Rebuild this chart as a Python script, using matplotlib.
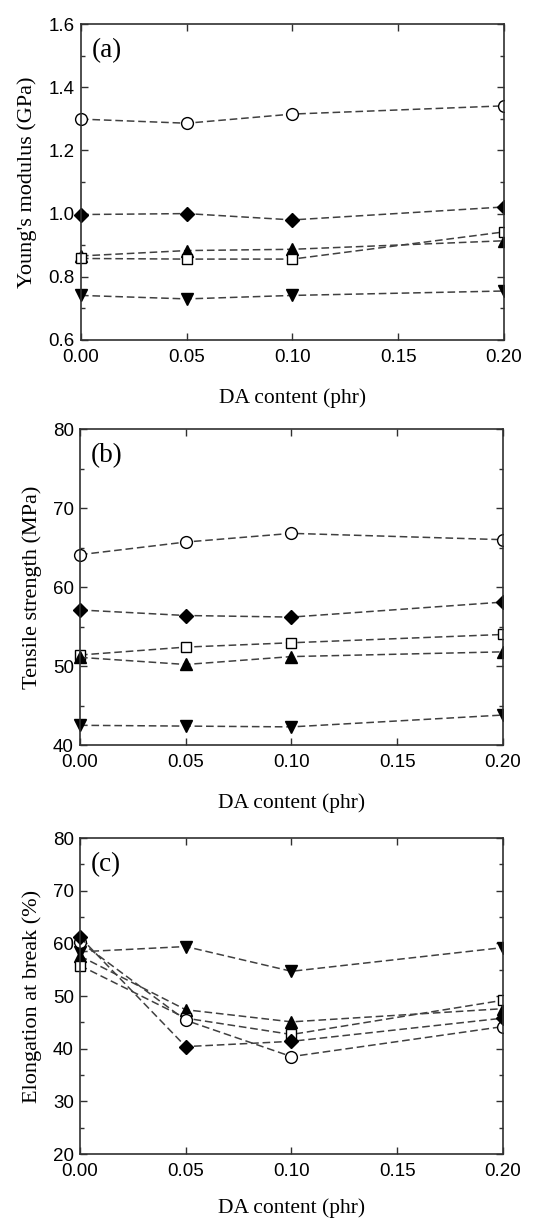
import numpy as np
import matplotlib
matplotlib.use("Agg")
import matplotlib.pyplot as plt
from matplotlib.patches import Rectangle
from matplotlib.ticker import MultipleLocator, FormatStrFormatter

# DA content (phr)
da = [0.00, 0.05, 0.10, 0.20]

# (a) Young's modulus (GPa)
ym_circle = [1.299, 1.286, 1.315, 1.341]
ym_diamond = [0.997, 1.000, 0.980, 1.021]
ym_tri_up = [0.866, 0.883, 0.887, 0.914]
ym_square = [0.858, 0.856, 0.856, 0.942]
ym_tri_down = [0.741, 0.730, 0.741, 0.755]

# (b) Tensile strength (MPa)
ts_circle = [64.1, 65.7, 66.8, 66.0]
ts_diamond = [57.1, 56.4, 56.2, 58.1]
ts_square = [51.4, 52.4, 52.95, 54.0]
ts_tri_up = [51.1, 50.2, 51.2, 51.8]
ts_tri_down = [42.5, 42.4, 42.3, 43.8]

# (c) Elongation at break (%)
eb_circle = [60.3, 45.4, 38.5, 44.2]
eb_diamond = [61.2, 40.4, 41.4, 45.8]
eb_square = [55.8, 45.8, 42.7, 49.2]
eb_tri_up = [57.6, 47.4, 45.1, 47.6]
eb_tri_down = [58.4, 59.4, 54.7, 59.2]

serif = ["Liberation Serif", "DejaVu Serif"]
sans = ["Liberation Sans", "DejaVu Sans"]

fig = plt.figure(figsize=(5.42, 12.19), dpi=100)

panels = [
    # (left, bottom, ylabel, letter, ylim, major, minor, fmt, xlabel pad, series)
    (0.1494, 0.7211, "Young's modulus (GPa)", "(a)", (0.6, 1.6), 0.2, 0.1, "%.1f", 16,
     [(ym_circle, "o", "white"), (ym_diamond, "D", "black"), (ym_tri_up, "^", "black"),
      (ym_square, "s", "white"), (ym_tri_down, "v", "black")]),
    (0.1476, 0.3888, "Tensile strength (MPa)", "(b)", (40, 80), 10, 5, "%d", 16,
     [(ts_circle, "o", "white"), (ts_diamond, "D", "black"), (ts_square, "s", "white"),
      (ts_tri_up, "^", "black"), (ts_tri_down, "v", "black")]),
    (0.1476, 0.0533, "Elongation at break (%)", "(c)", (20, 80), 10, 5, "%d", 13,
     [(eb_tri_down, "v", "black"), (eb_tri_up, "^", "black"), (eb_square, "s", "white"),
      (eb_circle, "o", "white"), (eb_diamond, "D", "black")]),
]

msize = {"o": 8.5, "D": 7.5, "s": 7, "^": 8, "v": 8}

for left, bottom, ylab, letter, ylim, major, minor, fmt, xpad, series in panels:
    ax = fig.add_axes([left, bottom, 0.7804, 0.2592])
    # markers get cut at the right frame but not at the left one
    clip = Rectangle((-0.1, -0.1), 1.1, 1.2, transform=ax.transAxes, visible=False)
    ax.add_patch(clip)
    for vals, mk, fc in series:
        ln, = ax.plot(da, vals, linestyle=(0, (5, 2.5)), color="#404040", lw=1.1,
                      marker=mk, markersize=msize[mk], markerfacecolor=fc,
                      markeredgecolor="black", markeredgewidth=1.0)
        ln.set_clip_path(clip)
    ax.set_xlim(0, 0.20)
    ax.set_ylim(*ylim)
    ax.xaxis.set_major_locator(MultipleLocator(0.05))
    ax.xaxis.set_major_formatter(FormatStrFormatter("%.2f"))
    ax.yaxis.set_major_locator(MultipleLocator(major))
    ax.yaxis.set_minor_locator(MultipleLocator(minor))
    ax.yaxis.set_major_formatter(FormatStrFormatter(fmt))
    ax.tick_params(which="both", direction="in", top=True, right=True, color="#303030")
    ax.tick_params(which="major", length=5, width=1, labelsize=13.5)
    ax.tick_params(axis="x", which="major", pad=6.5)
    ax.tick_params(axis="y", which="major", pad=4.5)
    ax.tick_params(which="minor", length=3, width=1)
    for lab in ax.get_xticklabels() + ax.get_yticklabels():
        lab.set_family(sans)
    for sp in ax.spines.values():
        sp.set_linewidth(1.2)
        sp.set_color("#303030")
    ax.set_xlabel("DA content (phr)", family=serif, fontsize=15.5, labelpad=xpad)
    ax.set_ylabel(ylab, family=serif, fontsize=16, labelpad=8)
    ax.text(0.026, 0.955, letter, transform=ax.transAxes, family=serif, fontsize=19.5,
            va="top", ha="left")

fig.savefig("out.png", dpi=100)
